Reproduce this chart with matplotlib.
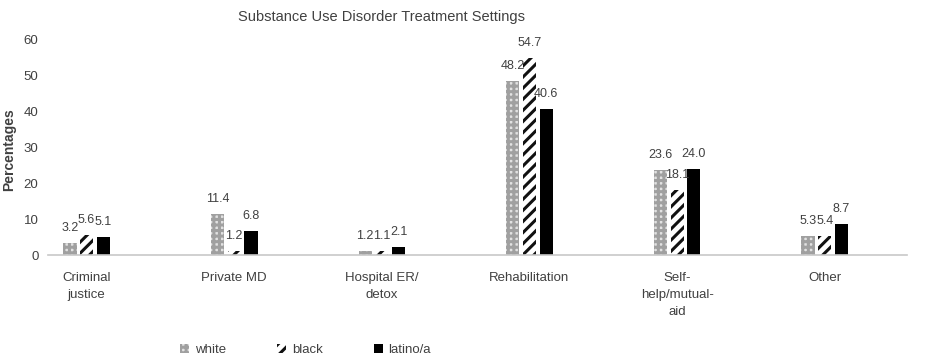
import numpy as np
import matplotlib.pyplot as plt
from matplotlib.patches import Patch

plt.rcParams['font.family'] = ['Liberation Sans', 'DejaVu Sans']
plt.rcParams['hatch.linewidth'] = 2.2

categories = ["Criminal\njustice", "Private MD", "Hospital ER/\ndetox",
              "Rehabilitation", "Self-\nhelp/mutual-\naid", "Other"]
white = [3.2, 11.4, 1.2, 48.2, 23.6, 5.3]
black = [5.6, 1.2, 1.1, 54.7, 18.1, 5.4]
latino = [5.1, 6.8, 2.1, 40.6, 24.0, 8.7]
groups = ["white", "black", "latino/a"]

txt = "#404040"
fig = plt.figure(figsize=(9.26, 3.63), dpi=100)
ax = fig.add_axes([0.052, 0.2975, 0.928, 0.595])

x = np.arange(len(categories))
w = 0.09
off = 0.113

white_style = dict(facecolor="#e2e2e2", edgecolor="#a0a0a0", linewidth=0, hatch="+++")
black_style = dict(facecolor="white", edgecolor="#111111", linewidth=0, hatch="///")

b1 = ax.bar(x - off, white, w, **white_style)
b2 = ax.bar(x, black, w, **black_style)
b3 = ax.bar(x + off, latino, w, color="black")

# value labels sit a few points above each bar
for bars, vals in [(b1, white), (b2, black), (b3, latino)]:
    for r, v in zip(bars, vals):
        ax.annotate(f"{v:.1f}", (r.get_x() + r.get_width() / 2, v),
                    xytext=(0, 6.5), textcoords="offset points",
                    ha="center", va="bottom", fontsize=9, color=txt)

ax.set_ylim(0, 60)
ax.set_xlim(-0.26, 5.56)
ax.set_yticks(range(0, 61, 10))
ax.set_xticks(x)
ax.set_xticklabels(categories, fontsize=9, color=txt, va="top",
                   linespacing=1.6)
ax.tick_params(axis="both", length=0, labelsize=9.5, colors=txt)
ax.tick_params(axis="x", pad=12)
ax.tick_params(axis="y", pad=7)
for s in ["top", "right", "left"]:
    ax.spines[s].set_visible(False)
ax.spines["bottom"].set_color("#c8c8c8")
ax.spines["bottom"].set_linewidth(1.2)

ax.set_ylabel("Percentages", fontsize=10, fontweight="bold", color=txt)
ax.yaxis.set_label_coords(-0.037, 0.49)

fig.text(0.4125, 0.953, "Substance Use Disorder Treatment Settings",
         ha="center", va="center", fontsize=10.5, color=txt)

handles = [Patch(**white_style), Patch(**black_style), Patch(facecolor="black")]
fig.legend(handles, groups, loc="center", bbox_to_anchor=(0.33, 0.035),
           ncol=3, frameon=False, fontsize=9.5, handlelength=0.7,
           handleheight=0.7, handletextpad=0.4, columnspacing=3.9,
           labelcolor=txt)

fig.savefig("out.png", dpi=100)
